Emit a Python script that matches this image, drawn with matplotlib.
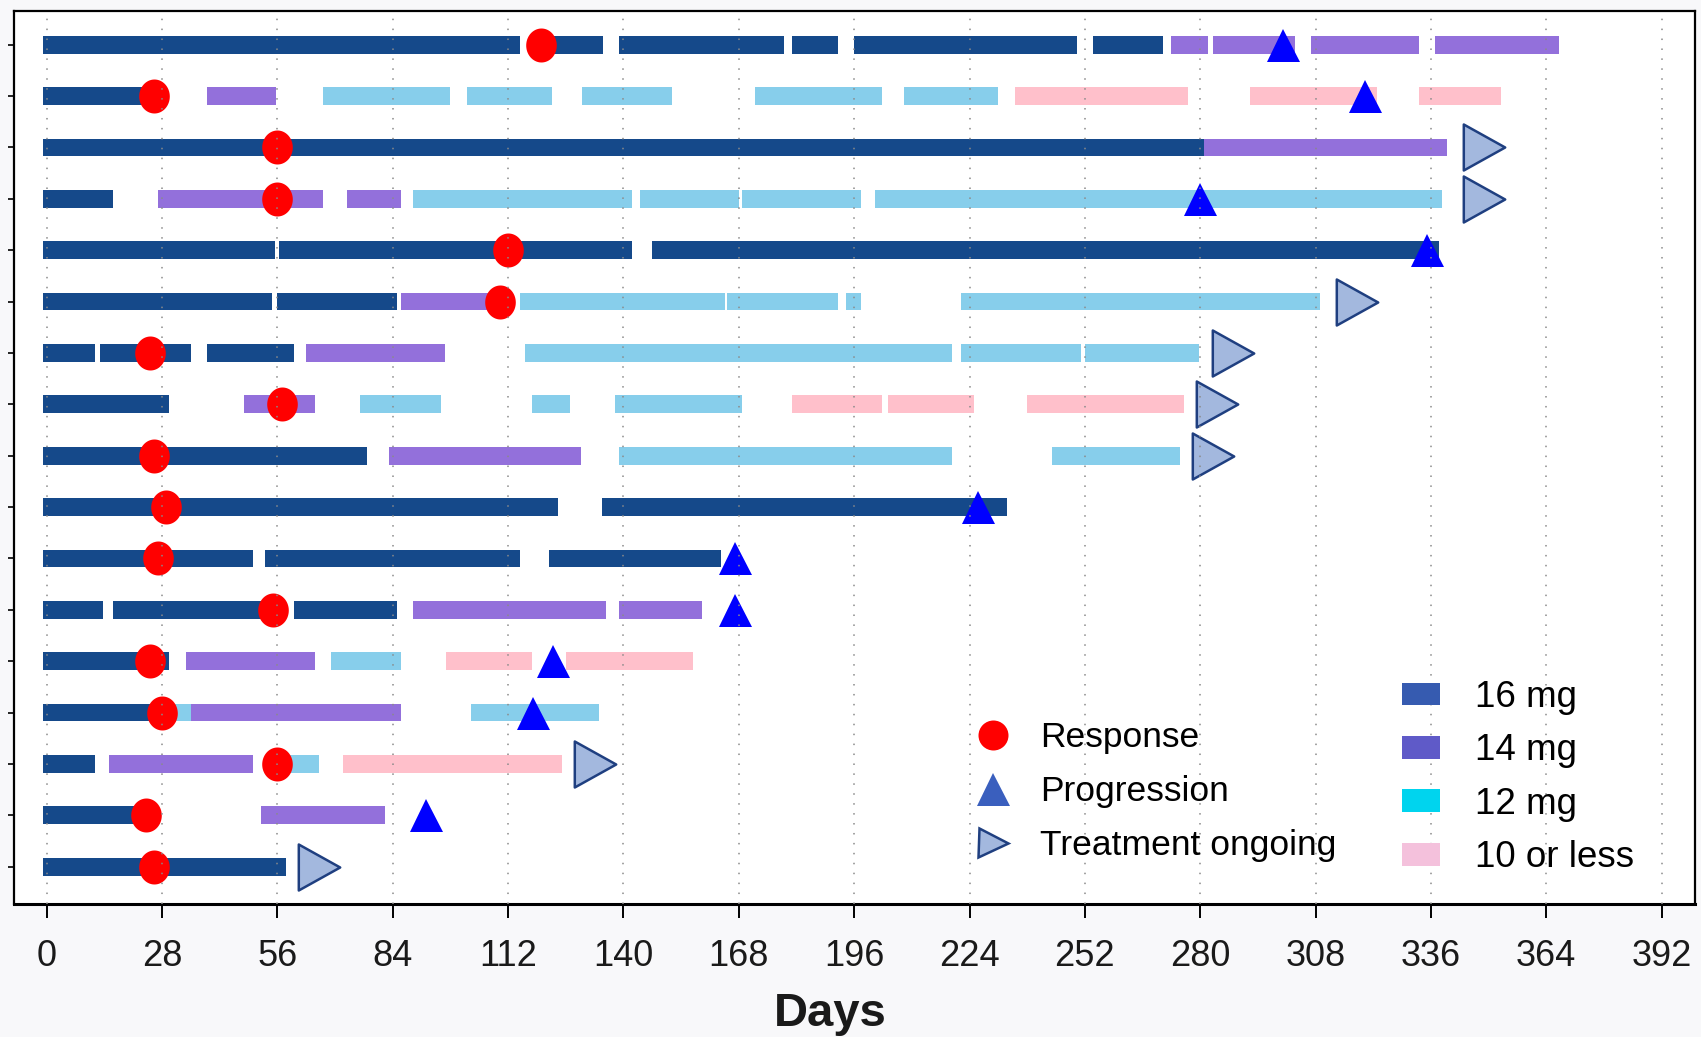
#!/usr/bin/env python3
"""Swimmer plot: dose periods, response, progression and ongoing treatment per patient."""
import matplotlib
matplotlib.use("Agg")
import matplotlib.pyplot as plt
import numpy as np
from matplotlib.lines import Line2D
from matplotlib.patches import Patch
from matplotlib.path import Path

plt.rcParams['font.family'] = ['Liberation Sans', 'DejaVu Sans']

n_patients = 17
day_ticks = list(range(0, 393, 28))

# dose periods as (patient row, first day, last day); row 0 is the top bar
dose_16mg = [
    (0, -1, 115), (0, 120, 135), (0, 139, 179), (0, 181, 192), (0, 196, 250),
    (0, 254, 271), (1, -1, 25), (2, -1, 281), (3, -1, 16),
    (4, -1, 55.5), (4, 56.3, 142), (4, 147, 338),
    (5, -1, 54.8), (5, 56, 85), (6, -1, 11.7), (6, 13, 35), (6, 39, 60),
    (7, -1, 29.7), (8, -1, 77.8), (9, -1, 124), (9, 134.8, 233),
    (10, -1, 50), (10, 53, 115), (10, 122, 163.7),
    (11, -1, 13.7), (11, 16, 56), (11, 60, 85),
    (12, -1, 29.7), (13, -1, 27), (14, -1, 11.7), (15, -1, 23), (16, -1, 58),
]
dose_14mg = [
    (0, 273, 281.8), (0, 283, 303), (0, 307, 333), (0, 337, 367),
    (1, 39, 55.6), (2, 281, 340), (3, 27, 67), (3, 73, 86), (5, 86, 108),
    (6, 63, 96.7), (7, 48, 65), (8, 83, 129.7), (11, 89, 135.8),
    (11, 139, 159), (12, 33.8, 65), (13, 35, 86), (14, 15, 50), (15, 52, 82),
]
dose_12mg = [
    (1, 67, 97.8), (1, 102, 122.7), (1, 130, 151.8), (1, 172, 202.8),
    (1, 208, 230.8), (3, 89, 142), (3, 144, 168), (3, 168.8, 197.7),
    (3, 201, 338.8), (5, 115, 164.7), (5, 165.1, 192), (5, 194, 197.7),
    (5, 222, 309), (6, 116, 219.8), (6, 222, 251), (6, 252, 279.8),
    (7, 76, 95.7), (7, 117.8, 127), (7, 138, 168.8), (8, 139, 219.8),
    (8, 244, 275), (12, 69, 86), (13, 27, 35), (13, 103, 134), (14, 55, 66),
]
dose_10mg_or_less = [
    (1, 235, 277), (1, 292, 322.8), (1, 333, 353),
    (7, 181, 202.8), (7, 204.1, 225), (7, 238, 276),
    (12, 97, 117.8), (12, 126, 157), (14, 72, 125),
]

response_day = [120, 26, 56, 56, 112, 110, 25, 57, 26, 29, 27, 55, 25, 28, 56, 24, 26]
progression_row = [0, 1, 3, 4, 9, 10, 11, 12, 13, 15]
progression_day = [300, 320, 280, 335, 226, 167, 167, 123, 118, 92]
ongoing_row = [2, 3, 5, 6, 7, 8, 14, 16]
ongoing_day = [349, 349, 318, 288, 284, 283, 133, 66]

dose_labels = ["16 mg", "14 mg", "12 mg", "10 or less"]
bar_colors = ["#15498a", "#9370db", "#87ceeb", "#ffc0cb"]
legend_colors = ["#365bb0", "#5f5ac8", "#00d4ee", "#f4c1dc"]

PX = 72 / 100  # points per pixel at dpi 100


def marker_paths():
    """Slightly tall ellipse and tall right-pointing triangle markers."""
    t = np.linspace(0, 2 * np.pi, 64)
    ellipse = Path(np.column_stack([0.9 * np.cos(t), np.sin(t)]), closed=True)
    arrow = Path([(-0.9, 1), (0.9, 0), (-0.9, -1), (-0.9, 1)], closed=True)
    return ellipse, arrow


def plot_swimmer():
    fig = plt.figure(figsize=(17.01, 10.37), dpi=100, facecolor="#f8f8fa")
    ax = fig.add_axes([0.0081, 0.1286, 0.9881, 0.8610])
    ellipse, arrow = marker_paths()

    for segs, color in zip([dose_16mg, dose_14mg, dose_12mg, dose_10mg_or_less],
                           bar_colors):
        rows = np.array([s[0] for s in segs])
        start = np.array([s[1] for s in segs])
        end = np.array([s[2] for s in segs])
        ax.barh(rows, end - start, left=start, height=0.345, color=color,
                linewidth=0)

    ax.plot(response_day, range(n_patients), linestyle="none", marker=ellipse,
            ms=34 * PX, color="red", mew=0)
    ax.plot(progression_day, progression_row, linestyle="none", marker="^",
            ms=33 * PX, color="blue", mew=0)
    ax.plot(ongoing_day, ongoing_row, linestyle="none", marker=arrow,
            ms=46 * PX, mfc="#a3b8de", mec="#1f3f80", mew=1.8)

    ax.set_xlim(-8, 400)
    ax.set_ylim(16.72, -0.66)
    ax.set_xticks(day_ticks)
    ax.set_yticks(range(n_patients))
    ax.set_yticklabels([])
    ax.tick_params(axis="x", length=14 * PX, width=1.4, pad=15.5,
                   labelsize=26, labelcolor="#1a1a1a")
    ax.tick_params(axis="y", length=6 * PX, width=1.2)
    ax.set_axisbelow(False)
    ax.grid(axis="x", color="#8a8a8a", linestyle=(0, (1, 5.5)), linewidth=1.1)
    for side in ax.spines.values():
        side.set_linewidth(1.6)
    ax.spines["bottom"].set_linewidth(2.2)

    ax.set_xlabel("Days", fontsize=34, fontweight="bold", color="#1a1a1a")
    ax.xaxis.set_label_coords(0.4856, -0.1370)
    ax.xaxis.label.set_verticalalignment("baseline")

    event_handles = [
        Line2D([], [], linestyle="none", marker="o", ms=30 * PX, color="red",
               mew=0),
        Line2D([], [], linestyle="none", marker="^", ms=33 * PX,
               color="#3a5fbe", mew=0),
        Line2D([], [], linestyle="none", marker=">", ms=29 * PX,
               mfc="#a3b8de", mec="#1f3f80", mew=1.8),
    ]
    leg1 = ax.legend(event_handles, ["Response", "Progression", "Treatment ongoing"],
                     loc="upper left", bbox_to_anchor=(972 / 1701, 1 - 721 / 1037),
                     bbox_transform=fig.transFigure, frameon=False,
                     fontsize=25.5, borderpad=0, borderaxespad=0,
                     handlelength=1.2, handletextpad=0.72, labelspacing=0.6)
    ax.add_artist(leg1)

    dose_handles = [Patch(facecolor=c, linewidth=0) for c in legend_colors]
    ax.legend(dose_handles, dose_labels, loc="upper left",
              bbox_to_anchor=(1402 / 1701, 1 - 680 / 1037),
              bbox_transform=fig.transFigure, frameon=False, fontsize=26.5,
              borderpad=0, borderaxespad=0, handlelength=1.03,
              handleheight=0.57, handletextpad=0.95, labelspacing=0.5)

    fig.savefig("out.png", dpi=100, facecolor=fig.get_facecolor())


if __name__ == "__main__":
    plot_swimmer()
